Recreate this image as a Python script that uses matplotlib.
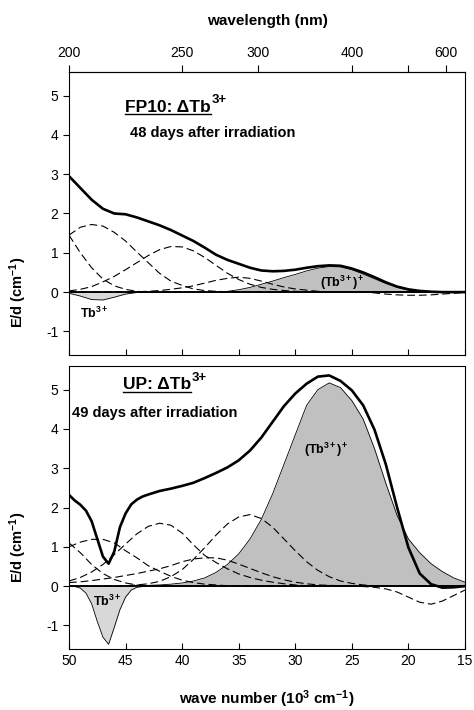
import numpy as np
import matplotlib
matplotlib.use("Agg")
import matplotlib.pyplot as plt
from matplotlib.lines import Line2D

plt.rcParams['font.family'] = ['Liberation Sans', 'DejaVu Sans']
plt.rcParams['mathtext.fontset'] = 'custom'
plt.rcParams['mathtext.rm'] = 'Liberation Sans'
plt.rcParams['mathtext.bf'] = 'Liberation Sans:bold'
plt.rcParams['mathtext.it'] = 'Liberation Sans:italic'
plt.rcParams['axes.unicode_minus'] = False

# wave number grid, 10^3 cm^-1 (50 ... 15)
wn = np.arange(50, 14, -1)
# finer grid for the narrow Tb3+ band in the UP sample
wn_fine = np.concatenate([np.arange(50, 43.4, -0.5), wn[wn < 43.5]])

# ---- FP10, 48 days ----
fp_total = [2.95, 2.65, 2.35, 2.12, 2.00, 1.98, 1.90, 1.80, 1.70, 1.58,
            1.44, 1.30, 1.13, 0.95, 0.82, 0.72, 0.62, 0.55, 0.53, 0.54,
            0.57, 0.62, 0.66, 0.68, 0.67, 0.60, 0.50, 0.38, 0.25, 0.14,
            0.07, 0.03, 0.01, 0.00, 0.00, 0.00]
fp_edge = [1.45, 1.00, 0.62, 0.33, 0.16, 0.07, 0.02] + [0.0] * 29
fp_band1 = [1.45, 1.65, 1.72, 1.68, 1.52, 1.30, 1.02, 0.75, 0.48, 0.28,
            0.17, 0.08, 0.04, 0.02, 0.01] + [0.0] * 21
fp_band2 = [0.03, 0.07, 0.14, 0.26, 0.40, 0.57, 0.75, 0.93, 1.08, 1.16,
            1.15, 1.05, 0.88, 0.68, 0.48, 0.32, 0.20, 0.12, 0.07, 0.04,
            0.02, 0.01] + [0.0] * 14
fp_band3 = [0.0] * 6 + [0.01, 0.02, 0.04, 0.07, 0.11, 0.16, 0.23, 0.30, 0.35, 0.38,
                        0.35, 0.28, 0.20, 0.13, 0.08, 0.05, 0.02, 0.01, 0.0] + [0.0] * 11
fp_neg = [0.0] * 26 + [0.0, -0.02, -0.05, -0.07, -0.08, -0.08, -0.07, -0.05, -0.03, -0.01]
fp_ion = [0.0] * 14 + [0.02, 0.06, 0.12, 0.20, 0.28, 0.37, 0.45, 0.54, 0.61, 0.65,
                       0.64, 0.57, 0.46, 0.34, 0.22, 0.12, 0.05, 0.02, 0.0, 0.0, 0.0, 0.0]
fp_tb = [-0.03, -0.10, -0.19, -0.20, -0.13, -0.05, -0.01, 0.0] + [0.0] * 28

# ---- UP, 49 days ----
up_total = [2.32, 2.18, 2.07, 1.92, 1.65, 1.20, 0.75, 0.57, 0.88, 1.50,
            1.85, 2.08, 2.20, 2.28,
            2.33, 2.42, 2.48, 2.55, 2.63, 2.75, 2.88, 3.02, 3.20, 3.45,
            3.78, 4.18, 4.58, 4.90, 5.15, 5.33, 5.36, 5.22, 4.98, 4.60,
            3.98, 3.10, 2.00, 0.98, 0.32, 0.05, -0.04, -0.03, 0.00]
up_tb = [0.0, -0.01, -0.05, -0.18, -0.45, -0.90, -1.30, -1.48, -1.05, -0.60,
         -0.28, -0.10, -0.03, -0.01] + [0.0] * 29
up_edge = [1.10, 0.85, 0.55, 0.32, 0.17, 0.08, 0.03, 0.01] + [0.0] * 28
up_band_a = [1.00, 1.12, 1.19, 1.19, 1.10, 0.90, 0.72, 0.52, 0.38, 0.25,
             0.15, 0.09, 0.05, 0.03, 0.01] + [0.0] * 21
up_band_b = [0.13, 0.22, 0.36, 0.55, 0.80, 1.07, 1.33, 1.52, 1.60, 1.55,
             1.35, 1.05, 0.78, 0.60, 0.44, 0.31, 0.22, 0.15, 0.10, 0.06,
             0.03, 0.01] + [0.0] * 14
up_band_c = [0.09, 0.11, 0.14, 0.18, 0.22, 0.27, 0.32, 0.38, 0.44, 0.52,
             0.62, 0.69, 0.72, 0.72, 0.66, 0.56, 0.45, 0.34, 0.24, 0.16,
             0.10, 0.06, 0.03, 0.02, 0.01, 0.0] + [0.0] * 10
up_band_e = [0.0] * 5 + [0.01, 0.03, 0.06, 0.12, 0.24, 0.42, 0.68, 0.98, 1.30, 1.58,
                         1.76, 1.82, 1.72, 1.50, 1.20, 0.90, 0.62, 0.40, 0.24, 0.13,
                         0.07, 0.03, 0.01, 0.0] + [0.0] * 7
up_neg = [0.0] * 26 + [-0.01, -0.03, -0.07, -0.15, -0.28, -0.41, -0.46, -0.38, -0.24, -0.10]
up_ion = [0.0] * 6 + [0.01, 0.02, 0.03, 0.05, 0.08, 0.13, 0.21, 0.35, 0.55, 0.82,
                      1.20, 1.70, 2.35, 3.10, 3.85, 4.60, 5.00, 5.17, 5.05, 4.72,
                      4.25, 3.50, 2.62, 1.80, 1.20, 0.85, 0.57, 0.37, 0.21, 0.10]

xticks = [50, 45, 40, 35, 30, 25, 20, 15]
yticks = [-1, 0, 1, 2, 3, 4, 5]
nm_ticks = [200, 250, 300, 400, 500, 600]
nm_labels = ['200', '250', '300', '400', '', '600']

ION_GREY = '#c0c0c0'
TB_GREY = '#d8d8d8'
dash = dict(color='black', lw=0.8, dashes=(7, 3.5))

fig = plt.figure(figsize=(4.74, 7.10), dpi=100)
ax1 = fig.add_axes([0.1456, 0.5, 0.8354, 0.3986])
ax2 = fig.add_axes([0.1456, 0.0859, 0.8354, 0.3986])


def draw_panel(ax, x, total, tb_x, tb, ion, dashed):
    ax.fill_between(x, ion, 0, color=ION_GREY, lw=0)
    ax.plot(x, ion, color='black', lw=0.6)
    ax.fill_between(tb_x, tb, 0, color=TB_GREY, lw=0)
    ax.plot(tb_x, tb, color='black', lw=0.6)
    for band in dashed:
        ax.plot(x, band, **dash)
    ax.axhline(0, color='black', lw=1.3, zorder=3)
    ax.set_xlim(50, 15)
    ax.set_ylim(-1.6, 5.6)
    ax.set_xticks(xticks)
    ax.set_yticks(yticks)
    ax.tick_params(axis='x', direction='in', length=4, labelsize=10)
    ax.tick_params(axis='y', direction='out', length=4, labelsize=10)
    ax.set_ylabel(r'$\mathbf{E/d\ (cm^{-1})}$', fontsize=10.5)


draw_panel(ax1, wn, fp_total, wn, fp_tb, fp_ion,
           [fp_edge, fp_band1, fp_band2, fp_band3, fp_neg])
ax1.plot(wn, fp_total, color='black', lw=1.9, zorder=4)
ax1.tick_params(axis='x', labelbottom=False)

draw_panel(ax2, wn, up_total, wn_fine, up_tb, up_ion,
           [up_edge, up_band_a, up_band_b, up_band_c, up_band_e, up_neg])
ax2.plot(wn_fine, up_total, color='black', lw=1.9, zorder=4)
ax2.set_xlabel(r'$\mathbf{wave\ number\ (10^{3}\ cm^{-1})}$', fontsize=11, labelpad=15)

ax1.yaxis.set_label_coords(-0.1, 0.22)
ax2.yaxis.set_label_coords(-0.1, 0.36)


def to_nm(w):
    w = np.asarray(w, dtype=float)
    with np.errstate(divide='ignore', invalid='ignore'):
        return np.where(w == 0, 1e9, 1e4 / w)


top = ax1.secondary_xaxis('top', functions=(to_nm, to_nm))
top.set_xticks(nm_ticks, labels=nm_labels)
top.tick_params(direction='out', length=5, labelsize=10)
top.set_xlabel('wavelength (nm)', fontsize=11, fontweight='bold', labelpad=15)

# band labels
ax1.text(25.9, 0.23, r'$\mathbf{(Tb^{3+})^{+}}$', ha='center', va='center', fontsize=9)
ax1.text(47.8, -0.53, r'$\mathbf{Tb^{3+}}$', ha='center', va='center', fontsize=9)
ax2.text(27.3, 3.46, r'$\mathbf{(Tb^{3+})^{+}}$', ha='center', va='center', fontsize=9)
ax2.text(46.65, -0.39, r'$\mathbf{Tb^{3+}}$', ha='center', va='center', fontsize=9)

# sample titles: underlined "name: ΔTb" with the 3+ as a superscript
titles = []
for ax, name, xf, yf in [(ax1, 'FP10: ΔTb', 0.141, 0.876), (ax2, 'UP: ΔTb', 0.136, 0.933)]:
    t = ax.text(xf, yf, name, transform=ax.transAxes, ha='left', va='center',
                fontsize=12.5, fontweight='bold')
    ax.annotate('3+', xy=(1, 0.55), xycoords=t, xytext=(0.5, 0), textcoords='offset points',
                ha='left', va='bottom', fontsize=9.5, fontweight='bold')
    titles.append(t)

ax1.text(0.154, 0.784, '48 days after irradiation', transform=ax1.transAxes,
         ha='left', va='center', fontsize=10.5, fontweight='bold')
ax2.text(0.008, 0.834, '49 days after irradiation', transform=ax2.transAxes,
         ha='left', va='center', fontsize=10.5, fontweight='bold')

fig.canvas.draw()
renderer = fig.canvas.get_renderer()
for t in titles:
    bb = t.get_window_extent(renderer).transformed(fig.transFigure.inverted())
    y = bb.y0 + 0.001
    fig.add_artist(Line2D([bb.x0, bb.x1], [y, y], color='black', lw=1.0,
                          transform=fig.transFigure))

fig.savefig('out.png', dpi=100)
